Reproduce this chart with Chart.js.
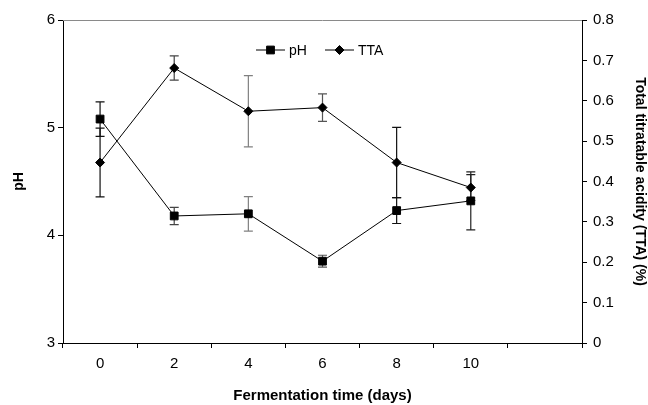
<!DOCTYPE html>
<html>
<head>
<meta charset="utf-8">
<script src="https://cdn.jsdelivr.net/npm/chart.js@4/dist/chart.umd.min.js"></script>
<style>
  html, body { margin: 0; padding: 0; background: #fff; }
</style>
</head>
<body>
<canvas id="chart" width="648" height="405"></canvas>
<script>
// fermentation days (last slot left empty, like the original axis)
const days = ['0', '2', '4', '6', '8', '10', ''];

const phValues = [5.08, 4.18, 4.20, 3.76, 4.23, 4.32];
const phErrors = [0.16, 0.08, 0.16, 0.055, 0.12, 0.27];

const ttaValues = [0.447, 0.681, 0.574, 0.583, 0.447, 0.385];
const ttaErrors = [0.085, 0.03, 0.088, 0.034, 0.087, 0.032];

const phTicks = [3, 4, 5, 6];
const ttaTicks = [0, 0.1, 0.2, 0.3, 0.4, 0.5, 0.6, 0.7, 0.8];

const errorColors = ['#111', '#444', '#808080', '#555', '#111', '#222'];
const fontFamily = "'Liberation Sans', Arial, sans-serif";

const errorBars = {
    id: 'errorBars',
    beforeDatasetsDraw(chart) {
        const ctx = chart.ctx;
        chart.data.datasets.forEach((ds, i) => {
            const meta = chart.getDatasetMeta(i);
            const scale = chart.scales[meta.yAxisID];
            meta.data.forEach((pt, j) => {
                const v = ds.data[j];
                const e = ds.errors[j];
                const top = scale.getPixelForValue(v + e);
                const bot = scale.getPixelForValue(v - e);
                ctx.save();
                ctx.strokeStyle = errorColors[j];
                ctx.lineWidth = 1.2;
                ctx.beginPath();
                ctx.moveTo(pt.x, top);
                ctx.lineTo(pt.x, bot);
                ctx.moveTo(pt.x - 4.5, top);
                ctx.lineTo(pt.x + 4.5, top);
                ctx.moveTo(pt.x - 4.5, bot);
                ctx.lineTo(pt.x + 4.5, bot);
                ctx.stroke();
                ctx.restore();
            });
        });
    },
};

// gray top frame line + the small legend inside the plot
const frameAndLegend = {
    id: 'frameAndLegend',
    afterDraw(chart) {
        const ctx = chart.ctx;
        const area = chart.chartArea;
        ctx.save();
        ctx.strokeStyle = '#8a8a8a';
        ctx.lineWidth = 1;
        ctx.beginPath();
        ctx.moveTo(area.left, area.top + 0.5);
        ctx.lineTo(area.right, area.top + 0.5);
        ctx.stroke();

        const items = [
            { x: 256, label: 'pH', style: 'rect', r: 5.5 },
            { x: 325, label: 'TTA', style: 'rectRot', r: 4.5 },
        ];
        const y = 50;
        ctx.font = '14px ' + fontFamily;
        ctx.textBaseline = 'middle';
        items.forEach((it) => {
            ctx.strokeStyle = '#000';
            ctx.fillStyle = '#000';
            ctx.lineWidth = 1;
            ctx.beginPath();
            ctx.moveTo(it.x, y);
            ctx.lineTo(it.x + 29, y);
            ctx.stroke();
            Chart.helpers.drawPoint(ctx, { pointStyle: it.style, radius: it.r, borderWidth: 1 }, it.x + 14.5, y);
            ctx.fillText(it.label, it.x + 33, y + 1);
        });
        ctx.restore();
    },
};

new Chart(document.getElementById('chart'), {
    type: 'line',
    data: {
        labels: days,
        datasets: [
            {
                label: 'pH',
                data: phValues,
                errors: phErrors,
                yAxisID: 'y',
                borderColor: '#000',
                backgroundColor: '#000',
                borderWidth: 1,
                pointStyle: 'rect',
                pointRadius: 5.5,
                pointBorderWidth: 1,
                tension: 0,
            },
            {
                label: 'TTA',
                data: ttaValues,
                errors: ttaErrors,
                yAxisID: 'y2',
                borderColor: '#000',
                backgroundColor: '#000',
                borderWidth: 1,
                pointStyle: 'rectRot',
                pointRadius: 4.5,
                pointBorderWidth: 1,
                tension: 0,
            },
        ],
    },
    options: {
        responsive: false,
        animation: false,
        layout: { padding: { top: 20, left: 0, right: 0, bottom: 0 } },
        plugins: {
            legend: { display: false },
            tooltip: { enabled: false },
        },
        scales: {
            x: {
                type: 'category',
                offset: true,
                afterFit: (s) => { s.height = 62; },
                grid: { offset: true, drawOnChartArea: false, tickLength: 5, color: '#000' },
                border: { color: '#000', width: 1 },
                ticks: { color: '#000', padding: 7, font: { family: fontFamily, size: 15 }, maxRotation: 0 },
                title: {
                    display: true,
                    text: 'Fermentation time (days)',
                    color: '#000',
                    font: { family: fontFamily, size: 15, weight: 'bold' },
                    padding: { top: 0, bottom: 0 },
                },
            },
            y: {
                position: 'left',
                min: 3,
                max: 6,
                afterFit: (s) => { s.width = 63; },
                afterBuildTicks: (s) => { s.ticks = phTicks.map((v) => ({ value: v })); },
                grid: { drawOnChartArea: false, tickLength: 5, color: '#000' },
                border: { color: '#000', width: 1 },
                ticks: { color: '#000', padding: 3, font: { family: fontFamily, size: 15 } },
                title: {
                    display: true,
                    text: 'pH',
                    color: '#000',
                    font: { family: fontFamily, size: 14, weight: 'bold' },
                    padding: { top: 11, bottom: 0 },
                },
            },
            y2: {
                position: 'right',
                min: 0,
                max: 0.8,
                afterFit: (s) => { s.width = 66; },
                afterBuildTicks: (s) => { s.ticks = ttaTicks.map((v) => ({ value: v })); },
                grid: { drawOnChartArea: false, tickLength: 5, color: '#000' },
                border: { color: '#000', width: 1 },
                ticks: { color: '#000', padding: 6, font: { family: fontFamily, size: 15 } },
                title: {
                    display: true,
                    text: 'Total titratable acidity (TTA) (%)',
                    color: '#000',
                    font: { family: fontFamily, size: 14, weight: 'bold' },
                    padding: { top: 0, bottom: 0 },
                },
            },
        },
    },
    plugins: [errorBars, frameAndLegend],
});
</script>
</body>
</html>
